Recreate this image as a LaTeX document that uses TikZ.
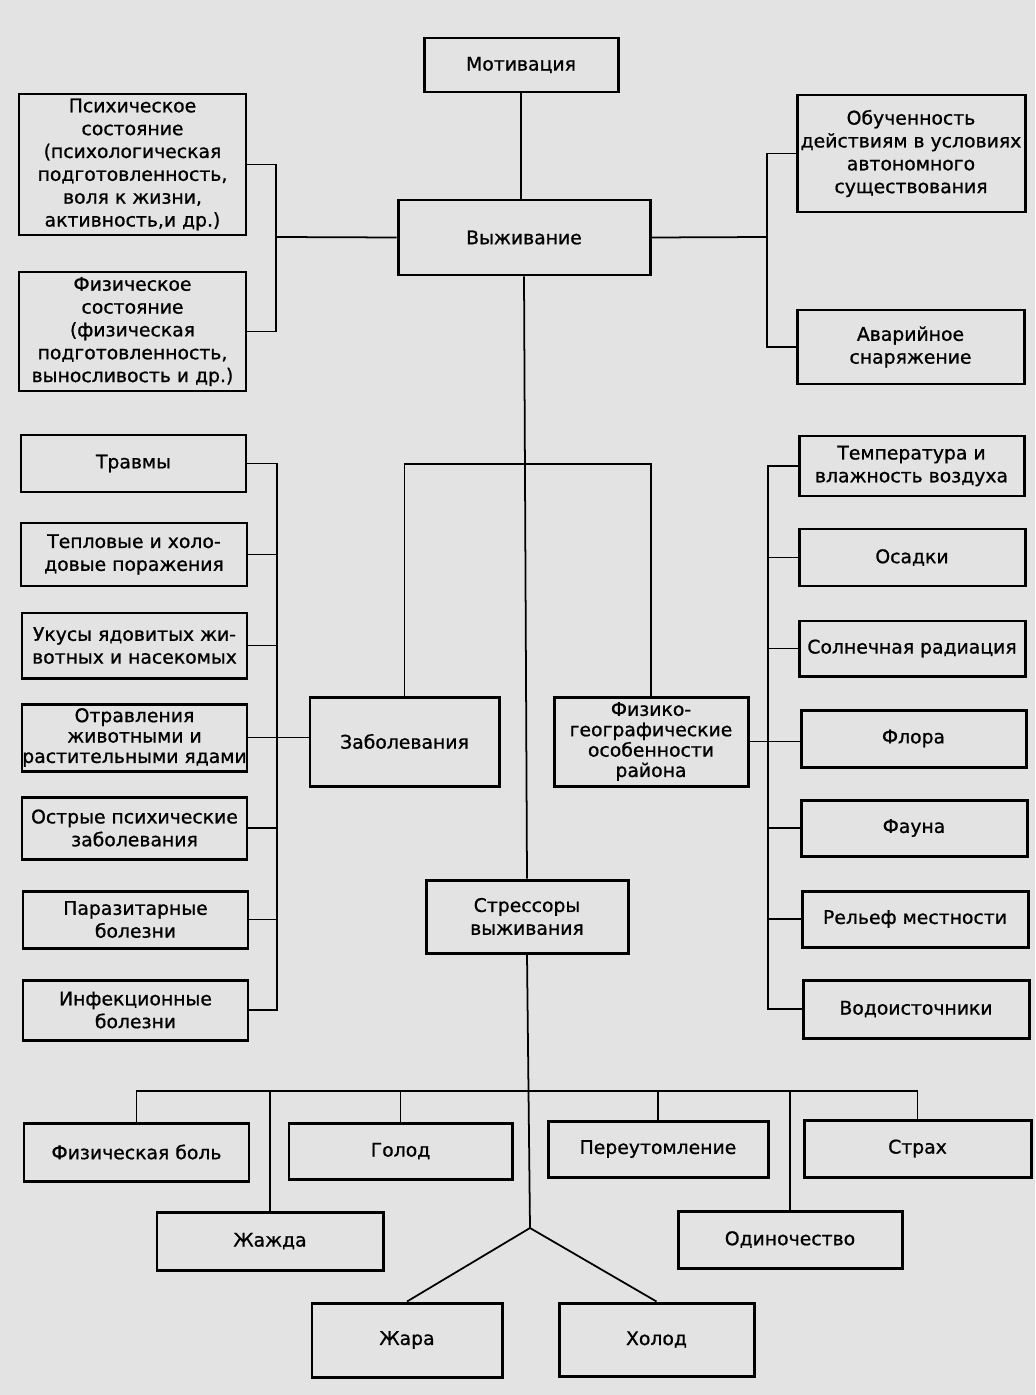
\documentclass[tikz,border=0pt]{standalone}
\usepackage{fontspec}
\setmainfont{DejaVu Sans}[FakeBold=0.9]

\begin{document}
\begin{tikzpicture}[
  x=0.2mm, y=-0.2mm,
  box/.style={draw, line width=1.7pt, align=center, inner sep=0pt},
  sz/.style 2 args={minimum width=#1*0.2mm, minimum height=#2*0.2mm},
  tight/.style={font=\fontsize{10.7}{11.6}\selectfont},
  conn/.style={line width=1pt},
  font=\fontsize{10.7}{13}\selectfont,
]

\useasboundingbox (0,0) rectangle (1035,1395);
\fill [black!11] (0,0) rectangle (1035,1395);

\node [box, sz={194}{54}] (motiv) at (521,65) {Мотивация};
\node [box, sz={252}{75}] (vyzh) at (524,237.5) {Выживание};

\node [box, sz={227}{141}] (psy) at (132.5,164.5)
  {Психическое\\состояние\\(психологическая\\подготовленность,\\воля к жизни,\\активность,и др.)};
\node [box, sz={227}{119}] (fiz) at (132.5,331.5)
  {Физическое\\состояние\\(физическая\\подготовленность,\\выносливость и др.)};
\node [box, sz={228}{117}] (obuch) at (911,153.5)
  {Обученность\\действиям в условиях\\автономного\\существования};
\node [box, sz={227}{74}] (avar) at (910.5,347) {Аварийное\\снаряжение};

\node [box, sz={225}{57}] (travm) at (133.5,463.5) {Травмы};
\node [box, sz={226}{63}] (tep) at (134,554.5) {Тепловые и холо-\\довые поражения};
\node [box, sz={225}{65}] (uk) at (134.5,645.5) {Укусы ядовитых жи-\\вотных и насекомых};
\node [box, tight, sz={225}{67}] (otr) at (134.5,737.5) {Отравления\\животными и\\растительными ядами};
\node [box, sz={225}{62}] (ostr) at (134.5,828) {Острые психические\\заболевания};
\node [box, sz={225}{57}] (par) at (135.5,919.5) {Паразитарные\\болезни};
\node [box, sz={225}{60}] (inf) at (135.5,1010) {Инфекционные\\болезни};

\node [box, sz={189}{89}] (zab) at (404.5,741.5) {Заболевания};
\node [box, tight, sz={194}{89}] (fg) at (651,741.5) {Физико-\\географические\\особенности\\района};

\node [box, sz={225}{60}] (temp) at (911.5,466) {Температура и\\влажность воздуха};
\node [box, sz={226}{57}] (osad) at (912,557.5) {Осадки};
\node [box, sz={226}{55}] (soln) at (912,648.5) {Солнечная радиация};
\node [box, sz={225}{57}] (flora) at (913.5,738.5) {Флора};
\node [box, sz={226}{56}] (fauna) at (914,828) {Фауна};
\node [box, sz={226}{56}] (rel) at (915,919) {Рельеф местности};
\node [box, sz={226}{58}] (vod) at (916,1009) {Водоисточники};

\node [box, sz={202}{73}] (stres) at (527,916.5) {Стрессоры\\выживания};

\node [box, sz={225}{58}] (fbol) at (136.5,1152) {Физическая боль};
\node [box, sz={223}{56}] (golod) at (400.5,1151) {Голод};
\node [box, sz={220}{56}] (pereut) at (658,1149) {Переутомление};
\node [box, sz={227}{57}] (strah) at (917.5,1148.5) {Страх};
\node [box, sz={226}{58}] (zhazh) at (270,1241) {Жажда};
\node [box, sz={224}{57}] (odin) at (790,1239.5) {Одиночество};
\node [box, sz={190}{74}] (zhara) at (407,1340) {Жара};
\node [box, sz={195}{73}] (holod) at (656.5,1339.5) {Холод};

\draw [conn] (motiv.south) -- (motiv.south |- vyzh.north);

\coordinate (jl) at (276,237);
\coordinate (jr) at (767,237);
\draw [conn] (psy.east) -| (jl) |- (fiz.east);
\draw [conn] (vyzh.west) -- (jl);
\draw [conn] (obuch.west) -| (jr) |- (avar.west);
\draw [conn] (vyzh.east) -- (jr);

\draw [conn] (vyzh.south) -- (stres.north);
\coordinate (jm) at (525,464);
\draw [conn] (zab.north) |- (jm) -| (fg.north);

\coordinate (jzab) at (277,738);
\draw [conn] (travm.east) -| (jzab) |- (inf.east);
\foreach \n in {tep, uk, ostr, par}
  \draw [conn] (\n.east) -- (\n.east -| jzab);
\draw [conn] (otr.east) -- (otr.east -| zab.west);

\coordinate (jfg) at (768,738);
\draw [conn] (temp.west) -| (jfg) |- (vod.west);
\foreach \n in {osad, soln, fauna, rel}
  \draw [conn] (\n.west) -- (\n.west -| jfg);
\draw [conn] (fg.east) -- (fg.east -| flora.west);

\coordinate (jb) at (528,1091);
\coordinate (jf) at (530,1228);
\draw [conn] (stres.south) -- (jf);
\draw [conn] (fbol.north) |- (jb) -| (strah.north);
\foreach \n in {golod, zhazh, pereut, odin}
  \draw [conn] (\n.north) -- (\n.north |- jb);
\draw [conn] (jf) -- (zhara.north);
\draw [conn] (jf) -- (holod.north);

\end{tikzpicture}
\end{document}
